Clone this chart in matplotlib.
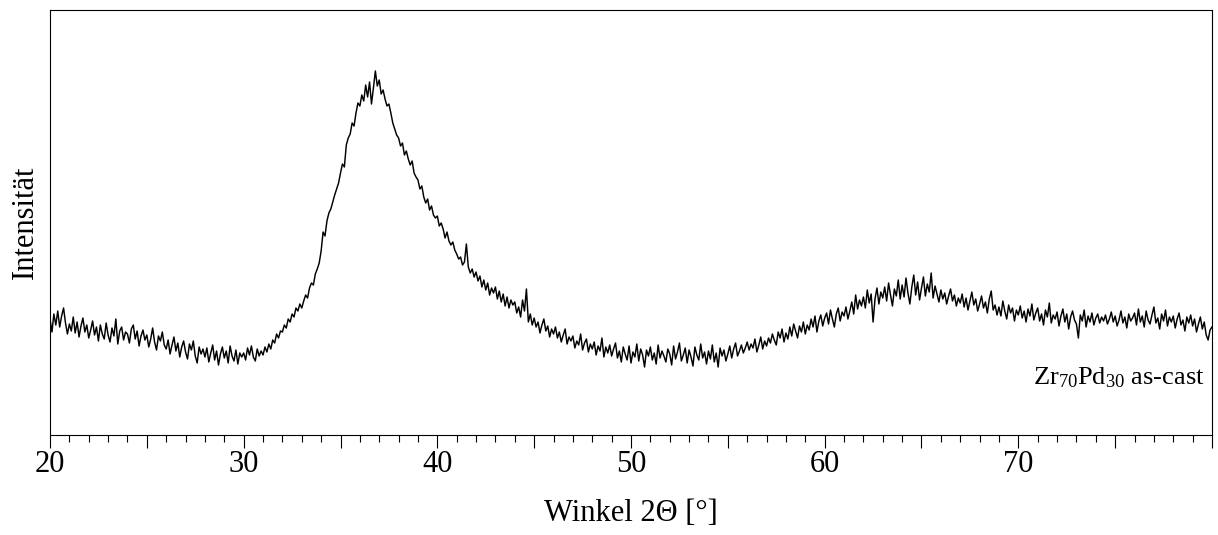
import numpy as np
import matplotlib
matplotlib.use("Agg")
from matplotlib import pyplot as plt
from matplotlib.ticker import MultipleLocator, FuncFormatter

plt.rcParams['font.family'] = ['Liberation Serif', 'DejaVu Serif']
plt.rcParams['mathtext.fontset'] = 'custom'
plt.rcParams['mathtext.rm'] = 'Liberation Serif'
plt.rcParams['mathtext.it'] = 'Liberation Serif:italic'

# Messraster: 20.0 .. 80.0 Grad, Schrittweite 0.1
start_angle = 20.0
step_angle = 0.1

# Intensitaet (willkuerliche Einheiten), eine Zeile = 1 Grad
intensity = [
    116, 103, 121, 110, 124, 108, 119, 127, 112, 101,   # 20
    111, 104, 118, 102, 113, 98, 109, 117, 103, 110,    # 21
    97, 105, 114, 100, 108, 94, 110, 101, 96, 112,      # 22
    100, 93, 107, 99, 116, 91, 104, 108, 95, 103,       # 23
    101, 92, 106, 110, 96, 104, 89, 99, 105, 95,        # 24
    100, 88, 96, 107, 93, 85, 99, 94, 103, 90,          # 25
    86, 95, 81, 90, 98, 84, 92, 78, 88, 94,             # 26
    83, 76, 91, 85, 94, 79, 72, 88, 81, 86,             # 27
    78, 87, 73, 82, 90, 75, 84, 70, 81, 88,             # 28
    77, 84, 72, 89, 79, 74, 85, 71, 82, 78,             # 29
    82, 75, 87, 80, 89, 78, 74, 86, 79, 84,             # 30
    80, 88, 83, 91, 86, 95, 92, 101, 97, 104,           # 31
    103, 110, 107, 116, 113, 121, 118, 127, 124, 131,   # 32
    127, 134, 140, 137, 147, 152, 150, 161, 166, 172,   # 33
    184, 203, 199, 214, 222, 226, 233, 240, 246, 252,   # 34
    262, 271, 268, 290, 297, 301, 312, 309, 322, 332,   # 35
    329, 340, 334, 350, 338, 353, 331, 347, 364, 349,   # 36
    355, 341, 345, 336, 329, 331, 322, 312, 306, 300,   # 37
    297, 289, 292, 280, 284, 276, 270, 274, 262, 258,   # 38
    255, 246, 249, 238, 232, 236, 225, 229, 220, 217,   # 39
    219, 209, 212, 206, 197, 203, 194, 190, 193, 185,   # 40
    181, 176, 178, 170, 173, 191, 168, 162, 166, 158,   # 41
    163, 154, 159, 148, 155, 145, 152, 140, 147, 142,   # 42
    148, 136, 144, 133, 141, 129, 138, 127, 135, 130,   # 43
    133, 122, 128, 118, 135, 124, 146, 113, 121, 110,   # 44
    117, 108, 113, 102, 110, 116, 104, 109, 98, 106,    # 45
    101, 108, 97, 103, 93, 100, 106, 91, 98, 94,        # 46
    99, 87, 94, 90, 101, 85, 92, 96, 83, 91,            # 47
    86, 93, 80, 89, 84, 97, 78, 88, 82, 90,             # 48
    79, 86, 92, 77, 84, 73, 88, 81, 75, 89,             # 49
    72, 83, 78, 91, 74, 86, 80, 68, 85, 79,             # 50
    88, 75, 82, 71, 90, 77, 84, 79, 73, 86,             # 51
    81, 70, 89, 76, 83, 92, 74, 80, 87, 72,             # 52
    85, 78, 69, 88, 80, 75, 91, 77, 83, 71,             # 53
    84, 76, 90, 73, 82, 68, 87, 79, 85, 74,             # 54
    81, 89, 77, 86, 92, 79, 84, 90, 82, 87,             # 55
    93, 85, 91, 87, 96, 83, 90, 98, 86, 94,             # 56
    89, 97, 92, 101, 95, 90, 103, 97, 106, 93,          # 57
    102, 96, 108, 99, 111, 104, 97, 109, 103, 113,      # 58
    101, 110, 105, 116, 108, 119, 103, 114, 120, 109,   # 59
    117, 122, 111, 125, 116, 108, 121, 127, 114, 123,   # 60
    119, 128, 116, 124, 133, 121, 140, 126, 135, 129,   # 61
    138, 127, 145, 132, 141, 113, 136, 147, 131, 143,   # 62
    137, 148, 134, 152, 140, 129, 146, 139, 155, 136,   # 63
    150, 138, 157, 142, 131, 148, 160, 140, 153, 135,   # 64
    147, 158, 139, 151, 143, 162, 137, 149, 141, 133,   # 65
    145, 136, 142, 131, 139, 146, 134, 140, 129, 137,   # 66
    132, 141, 128, 137, 125, 134, 143, 130, 136, 124,   # 67
    131, 139, 127, 133, 122, 136, 144, 125, 130, 120,   # 68
    128, 119, 134, 124, 116, 130, 122, 127, 114, 125,   # 69
    120, 129, 117, 124, 113, 126, 119, 131, 115, 122,   # 70
    127, 114, 121, 110, 125, 118, 132, 112, 120, 116,   # 71
    123, 109, 119, 126, 113, 121, 106, 118, 124, 115,   # 72
    111, 97, 120, 114, 125, 108, 119, 113, 122, 110,    # 73
    117, 121, 112, 118, 114, 120, 111, 116, 123, 113,   # 74
    119, 109, 115, 124, 112, 118, 107, 121, 114, 117,   # 75
    122, 110, 126, 113, 119, 108, 124, 115, 111, 120,   # 76
    128, 112, 117, 106, 121, 114, 125, 109, 118, 113,   # 77
    119, 107, 116, 122, 110, 115, 104, 118, 112, 120,   # 78
    109, 116, 103, 111, 118, 106, 113, 100, 95, 105,    # 79
    108,                                                # 80
]

two_theta = np.round(start_angle + step_angle * np.arange(len(intensity)), 2)

fig = plt.figure(figsize=(12.18, 5.35), dpi=100)
ax = fig.add_axes([50 / 1218, 100 / 535, 1162 / 1218, 425 / 535])

ax.plot(two_theta, intensity, color='black', lw=1.05)

ax.set_xlim(20, 80)
ax.set_ylim(0, 425)
ax.set_yticks([])

ax.xaxis.set_major_locator(MultipleLocator(5))
ax.xaxis.set_minor_locator(MultipleLocator(1))
ax.xaxis.set_major_formatter(FuncFormatter(
    lambda v, p: "%d" % v if (int(round(v)) % 10 == 0 and v < 79) else ""))
ax.tick_params(axis='x', which='major', direction='out', length=9,
               width=0.8, labelsize=22, pad=2)
ax.tick_params(axis='x', which='minor', direction='out', length=5, width=0.8)

ax.set_xlabel("Winkel 2\u0398 [\u00b0]", fontsize=22, labelpad=14)
ax.set_ylabel("Intensit\u00e4t", fontsize=22, labelpad=7)

ax.text(79.6, 51, r"Zr$_{70}$Pd$_{30}$ as-cast", fontsize=19,
        ha='right', va='baseline')

fig.savefig("out.png", dpi=100)
